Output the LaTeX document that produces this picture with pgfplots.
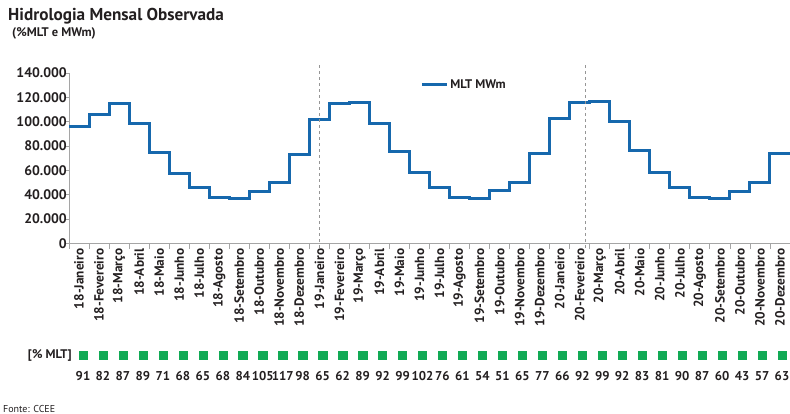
\documentclass[border=0pt]{standalone}
\usepackage{fontspec}
\setmainfont{PT Sans}
\usepackage{pgfplots}
\usepackage{pgfplotstable}
\pgfplotsset{compat=1.18}
\definecolor{blu}{RGB}{22,104,173}
\definecolor{grn}{RGB}{17,170,85}
\definecolor{txt}{RGB}{35,31,32}
\definecolor{axg}{RGB}{165,165,165}
\definecolor{dsh}{RGB}{150,150,150}

\pgfplotstableread{
x y
0 96000
1 105800
2 114900
3 98300
4 75000
5 57700
6 46000
7 37600
8 37100
9 42800
10 49800
11 73400
12 101800
13 115300
14 116000
15 98300
16 75200
17 58000
18 46300
19 38100
20 37300
21 43200
22 50400
23 73600
24 102700
25 116000
26 116600
27 99800
28 76100
29 58300
30 46300
31 37700
32 37000
33 43000
34 50400
35 73700
36 73700
}\mlt

\pgfplotstableread{
x y lbl
0 0 91
1 0 82
2 0 87
3 0 89
4 0 71
5 0 68
6 0 65
7 0 68
8 0 84
9 0 105
10 0 117
11 0 98
12 0 65
13 0 62
14 0 89
15 0 92
16 0 99
17 0 102
18 0 76
19 0 61
20 0 54
21 0 51
22 0 65
23 0 77
24 0 66
25 0 92
26 0 99
27 0 92
28 0 83
29 0 81
30 0 90
31 0 87
32 0 60
33 0 43
34 0 57
35 0 63
}\pct

\begin{document}
\begin{tikzpicture}[x=1pt,y=1pt]
\useasboundingbox (0,0) rectangle (790,-414);
\node[anchor=base west, inner sep=0pt, text=txt] at (8,-21) {\bfseries\fontsize{17.2}{20}\selectfont Hidrologia Mensal Observada};
\node[anchor=base west, inner sep=0pt, text=txt] at (12,-37) {\bfseries\fontsize{12.5}{14}\selectfont (\%MLT e MWm)};
\node[anchor=base west, inner sep=0pt, text=txt] at (3,-412) {\fontsize{10}{12}\selectfont Fonte: CCEE};
\node[anchor=east, inner sep=0pt, text=txt] at (72,-355) {\bfseries\fontsize{12.5}{14}\selectfont [\% MLT]};

\begin{axis}[
  at={(69pt,-243.5pt)}, anchor=south west,
  scale only axis, width=721pt, height=170.5pt,
  xmin=0, xmax=36, ymin=0, ymax=140000,
  clip=false,
  scaled y ticks=false,
  axis x line*=bottom, axis y line*=left,
  axis line style={draw=axg, line width=0.8pt},
  xtick={0.5,1.5,...,35.5},
  xticklabels={18-Janeiro,18-Fevereiro,18-Março,18-Abril,18-Maio,18-Junho,18-Julho,18-Agosto,18-Setembro,18-Outubro,18-Novembro,18-Dezembro,19-Janeiro,19-Fevereiro,19-Março,19-Abril,19-Maio,19-Junho,19-Julho,19-Agosto,19-Setembro,19-Outubro,19-Novembro,19-Dezembro,20-Janeiro,20-Fevereiro,20-Março,20-Abril,20-Maio,20-Junho,20-Julho,20-Agosto,20-Setembro,20-Outubro,20-Novembro,20-Dezembro},
  major x tick style={draw=none},
  minor xtick={0,1,...,36},
  minor x tick style={draw=axg, line width=0.8pt},
  minor tick length=5pt,
  ytick={0,20000,...,140000},
  yticklabels={0\hspace{9pt},20.000,40.000,60.000,80.000,100.000,120.000,140.000},
  major y tick style={draw=axg, line width=0.8pt},
  major tick length=4pt,
  tick align=outside,
  xticklabel style={rotate=90, anchor=east, inner xsep=0pt, inner ysep=0pt, xshift=-1pt, font=\bfseries\fontsize{13.3}{15}\selectfont, text=txt},
  yticklabel style={anchor=east, inner sep=0pt, xshift=2pt, font=\bfseries\fontsize{13.8}{15}\selectfont, text=txt},
  legend style={at={(0.487,0.93)}, anchor=west, draw=none, fill=none, inner sep=0pt, font=\bfseries\fontsize{12.5}{14}\selectfont, text=txt, nodes={inner sep=2pt}},
  legend image code/.code={\draw[#1] (0pt,0pt) -- (25pt,0pt);},
]
\addplot[const plot, color=blu, line width=3pt, line join=miter] table[x=x,y=y] {\mlt};
\addlegendentry{MLT MWm}
\draw[dsh, dashed, line width=0.8pt] (axis cs:12.5,146500) -- (axis cs:12.5,-5300);
\draw[dsh, dashed, line width=0.8pt] (axis cs:25.78,146500) -- (axis cs:25.78,-5300);
\end{axis}

\begin{axis}[
  at={(83pt,-355pt)}, anchor=west,
  scale only axis, width=699pt, height=10pt,
  xmin=0, xmax=35, ymin=-1, ymax=1,
  hide axis, clip=false,
  point meta=explicit symbolic,
  nodes near coords,
  nodes near coords style={anchor=center, yshift=-21pt, font=\bfseries\fontsize{12.8}{14}\selectfont, text=txt},
]
\addplot[only marks, mark=square*, mark size=4.1pt, color=grn] table[x=x,y=y,meta=lbl] {\pct};
\end{axis}
\end{tikzpicture}
\end{document}
